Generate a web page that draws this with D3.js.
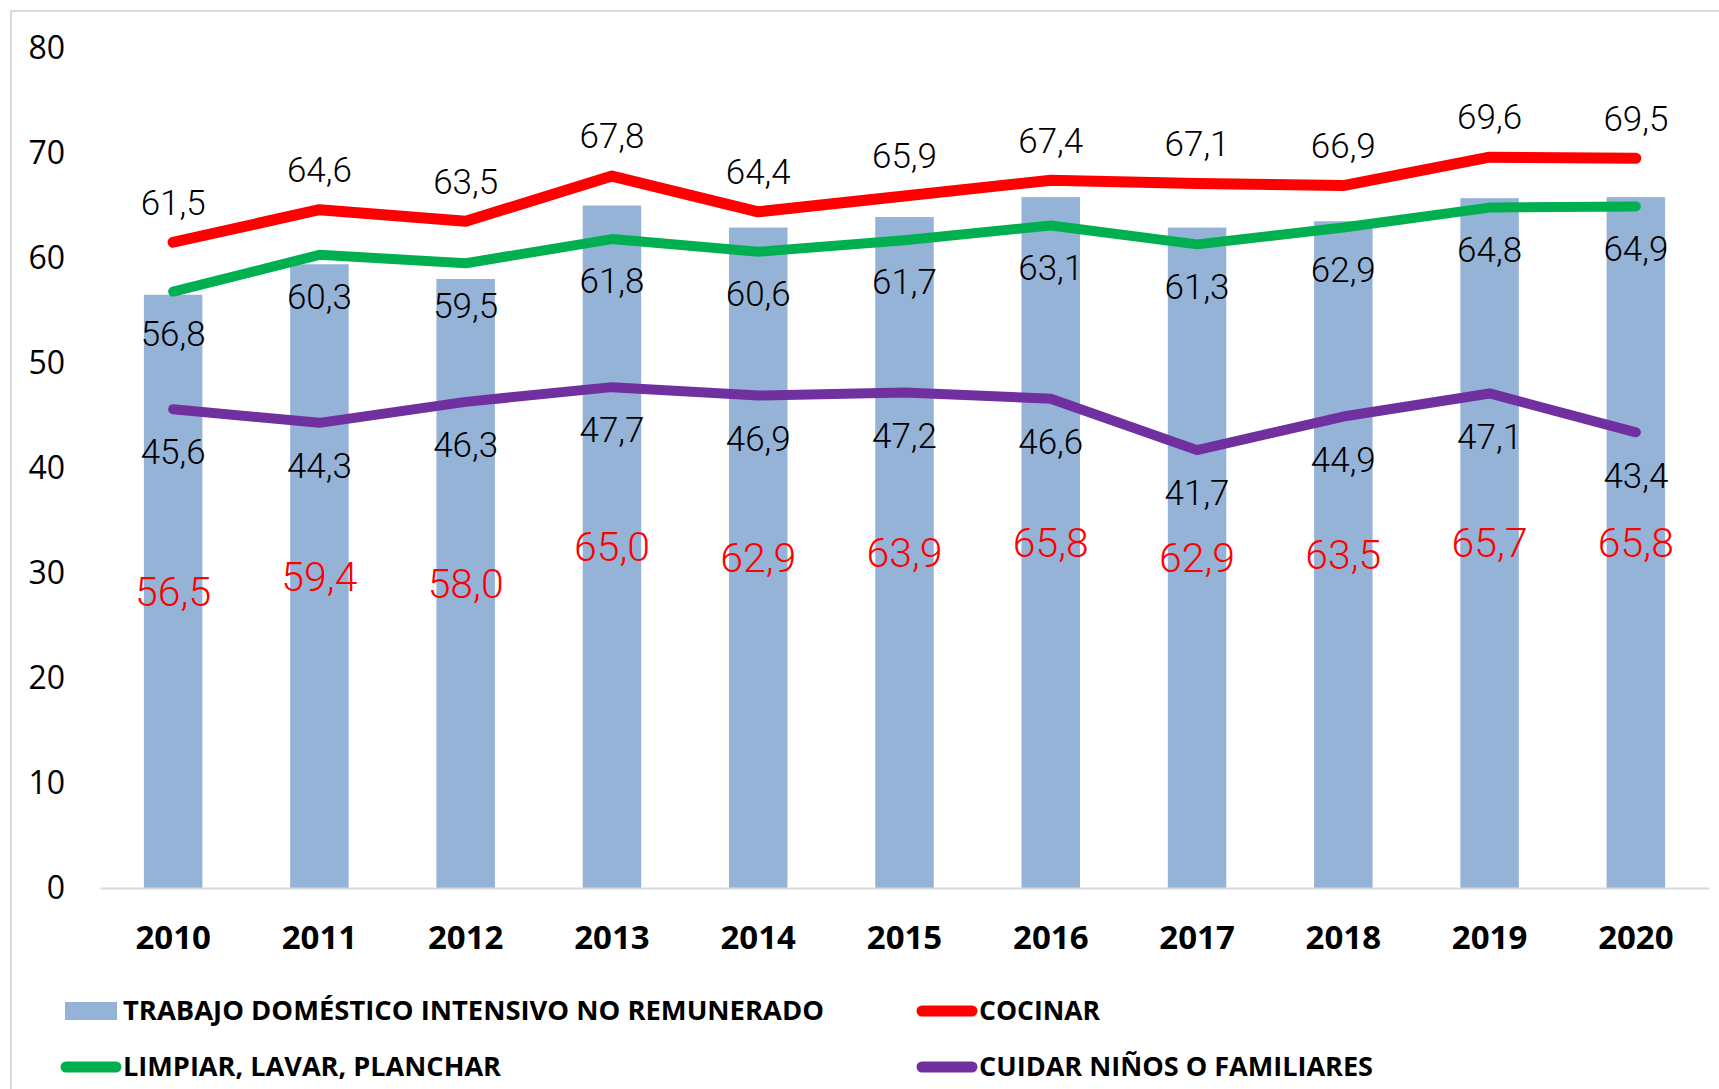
<!DOCTYPE html>
<html>
<head>
<meta charset="utf-8">
<script src="https://cdn.jsdelivr.net/npm/d3@7"></script>
<style>
  html, body { margin: 0; padding: 0; background: #fff; }
  svg { display: block; }
</style>
</head>
<body>
<svg id="chart" width="1719" height="1089"></svg>
<script>
// ---- data ----
const years = ["2010","2011","2012","2013","2014","2015","2016","2017","2018","2019","2020"];
const trabajo = [56.5, 59.4, 58.0, 65.0, 62.9, 63.9, 65.8, 62.9, 63.5, 65.7, 65.8];
const cocinar = [61.5, 64.6, 63.5, 67.8, 64.4, 65.9, 67.4, 67.1, 66.9, 69.6, 69.5];
const limpiar = [56.8, 60.3, 59.5, 61.8, 60.6, 61.7, 63.1, 61.3, 62.9, 64.8, 64.9];
const cuidar  = [45.6, 44.3, 46.3, 47.7, 46.9, 47.2, 46.6, 41.7, 44.9, 47.1, 43.4];
const yTicks = [0, 10, 20, 30, 40, 50, 60, 70, 80];
const seriesNames = ["TRABAJO DOMÉSTICO INTENSIVO NO REMUNERADO", "COCINAR", "LIMPIAR, LAVAR, PLANCHAR", "CUIDAR NIÑOS O FAMILIARES"];

// ---- layout ----
const svg = d3.select("#chart");
const fmt = v => d3.format(".1f")(v).replace(".", ",");

const x = d3.scaleBand().domain(years).range([100, 1709]).padding(0);
const y = d3.scaleLinear().domain([0, 80]).range([888, 48]);
const cx = d => x(d) + x.bandwidth() / 2;
const barW = x.bandwidth() * 0.4;

const C = { bar: "#95B3D7", red: "#FF0000", green: "#00B050", purple: "#7030A0", grid: "#D9D9D9" };
const labelFont = "'Roboto Light', 'Lato Light', 'Inter Light', Roboto, Inter, sans-serif";
const axisFont = "'Open Sans', 'Noto Sans', sans-serif";

// chart border (top and left edges visible)
svg.append("path")
  .attr("d", "M11,1089 L11,11 L1719,11")
  .attr("fill", "none").attr("stroke", C.grid).attr("stroke-width", 2);

// bars
svg.append("g").selectAll("rect").data(years).join("rect")
  .attr("x", d => cx(d) - barW / 2)
  .attr("width", barW)
  .attr("y", (d, i) => y(trabajo[i]))
  .attr("height", (d, i) => y(0) - y(trabajo[i]))
  .attr("fill", C.bar);

// x axis line
const xAxis = svg.append("g").attr("transform", `translate(0,${y(0)})`)
  .call(d3.axisBottom(x).tickSize(0).tickPadding(0));
xAxis.select(".domain").attr("stroke", C.grid).attr("stroke-width", 2);
xAxis.selectAll("text")
  .attr("y", 49).attr("dy", "0.35em")
  .attr("font-family", axisFont).attr("font-weight", 700)
  .attr("font-size", 33).attr("fill", "#000");

// y axis labels
const yAxis = svg.append("g").attr("transform", "translate(65,0)")
  .call(d3.axisLeft(y).tickValues(yTicks).tickSize(0).tickPadding(0));
yAxis.select(".domain").remove();
yAxis.selectAll("text")
  .attr("font-family", axisFont).attr("font-size", 32).attr("fill", "#000");

// lines
const lineGen = vals => d3.line().x((d, i) => cx(years[i])).y(d => y(d))(vals);
const lines = [
  { vals: limpiar, color: C.green, w: 10 },
  { vals: cuidar,  color: C.purple, w: 10 },
  { vals: cocinar, color: C.red, w: 11 }
];
lines.forEach(s => {
  svg.append("path").attr("d", lineGen(s.vals))
    .attr("fill", "none").attr("stroke", s.color).attr("stroke-width", s.w)
    .attr("stroke-linecap", "round").attr("stroke-linejoin", "round");
});

// bar labels (red, centered in bar)
svg.append("g").selectAll("text").data(trabajo).join("text")
  .attr("x", (d, i) => cx(years[i]))
  .attr("y", d => y(d / 2))
  .attr("dy", "0.35em")
  .attr("text-anchor", "middle")
  .attr("font-family", labelFont).attr("font-weight", 300)
  .attr("font-size", 41).attr("fill", C.red)
  .text(fmt);

// line labels
function lineLabels(vals, off) {
  svg.append("g").selectAll("text").data(vals).join("text")
    .attr("x", (d, i) => cx(years[i]))
    .attr("y", d => y(d) + off)
    .attr("dy", "0.35em")
    .attr("text-anchor", "middle")
    .attr("font-family", labelFont).attr("font-weight", 300)
    .attr("font-size", 35).attr("fill", "#000")
    .text(fmt);
}
lineLabels(cocinar, -40);
lineLabels(limpiar, 42);
lineLabels(cuidar, 43);

// legend
const legend = svg.append("g").attr("font-family", axisFont).attr("font-weight", 700)
  .attr("font-size", 26).attr("fill", "#000");
const legendItems = [
  { name: seriesNames[0], type: "bar",  color: C.bar,    sx: 65,  tx: 123, ty: 1011, tw: 701 },
  { name: seriesNames[1], type: "line", color: C.red,    sx: 916, tx: 979, ty: 1011, tw: 121 },
  { name: seriesNames[2], type: "line", color: C.green,  sx: 60,  tx: 123, ty: 1067, tw: 378 },
  { name: seriesNames[3], type: "line", color: C.purple, sx: 916, tx: 979, ty: 1067, tw: 394 }
];
legendItems.forEach(it => {
  if (it.type === "bar") {
    legend.append("rect").attr("x", it.sx).attr("y", it.ty - 9).attr("width", 52).attr("height", 18).attr("fill", it.color);
  } else {
    legend.append("line").attr("x1", it.sx + 6).attr("x2", it.tx - 7)
      .attr("y1", it.ty).attr("y2", it.ty)
      .attr("stroke", it.color).attr("stroke-width", 11).attr("stroke-linecap", "round");
  }
  legend.append("text").attr("x", it.tx).attr("y", it.ty).attr("dy", "0.35em")
    .attr("textLength", it.tw).attr("lengthAdjust", "spacingAndGlyphs")
    .text(it.name);
});
</script>
</body>
</html>
